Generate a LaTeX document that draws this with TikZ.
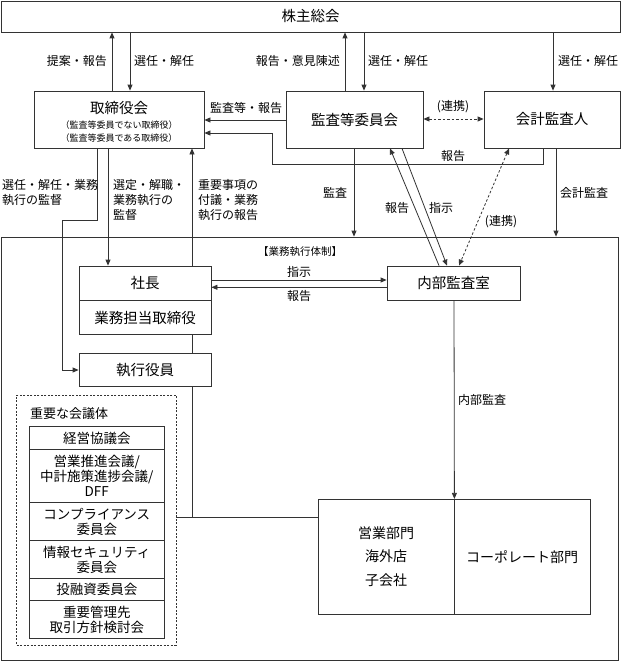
\documentclass[tikz,border=0pt]{standalone}
\usepackage{fontspec}
\setmainfont{Noto Sans CJK JP}
\usetikzlibrary{arrows.meta}
\begin{document}
\begin{tikzpicture}[x=1pt,y=-1pt,
  ln/.style={draw=black!80, line width=0.8pt},
  arr/.style={ln, -{Triangle[length=6pt,width=5pt]}},
  darr/.style={ln, dash pattern=on 2.5pt off 2pt, {Triangle[length=6pt,width=5pt]}-{Triangle[length=6pt,width=5pt]}},
  box/.style={ln, inner sep=0pt, align=center, font=\fontsize{14.5}{17}\selectfont},
  mbox/.style={ln, inner sep=0pt, align=center, minimum width=135pt, font=\fontsize{13.5}{15}\selectfont},
  lbl/.style={inner sep=0pt, align=left, font=\fontsize{12}{15}\selectfont},
  txt/.style={inner sep=0pt, align=center},
  ]
\useasboundingbox (0,0) rectangle (621,661);
% main boxes
\node[box, minimum width=619pt, minimum height=31pt] (kabu) at (310.5,16.5) {株主総会};
\node[box, minimum width=170pt, minimum height=57pt] (tori) at (119,119.5) {};
\node[txt, font=\fontsize{14.5}{17}\selectfont] (toriT) at (119,108) {取締役会};
\node[txt, font=\fontsize{9}{13}\selectfont] (toriS) at (119,131.5) {（監査等委員でない取締役）\\（監査等委員である取締役）};
\node[box, minimum width=137pt, minimum height=57pt] (kansa) at (354.5,119.5) {監査等委員会};
\node[box, minimum width=136pt, minimum height=57pt] (kaikei) at (552,119.5) {会計監査人};
\node[ln, inner sep=0pt, minimum width=617.5pt, minimum height=423pt] (big) at (309.75,448.5) {};
\node[txt, font=\fontsize{10.5}{12}\selectfont] (taisei) at (300,252) {【業務執行体制】};
\node[box, minimum width=132pt, minimum height=34.7pt] (shacho) at (145,283.35) {社長};
\node[box, minimum width=132pt, minimum height=33.6pt] (gyomu) at (145,317.5) {業務担当取締役};
\node[box, minimum width=132pt, minimum height=33.4pt] (shikko) at (145,370) {執行役員};
\node[box, minimum width=133pt, minimum height=34.7pt] (naibu) at (453.5,283.35) {内部監査室};
% important meetings
\node[ln, dash pattern=on 2pt off 1.5pt, inner sep=0pt, minimum width=159.3pt, minimum height=250pt] (kaigi) at (96.35,520) {};
\node[txt, anchor=west, font=\fontsize{13}{15}\selectfont] (kaigiT) at (30,414) {重要な会議体};
\node[mbox, minimum height=22.6pt] (m1) at (96.8,438) {経営協議会};
\node[mbox, minimum height=53pt] (m2) at (96.8,475.8) {営業推進会議/\\中計施策進捗会議/\\DFF};
\node[mbox, minimum height=38.4pt] (m3) at (96.8,521.5) {コンプライアンス\\委員会};
\node[mbox, minimum height=38pt] (m4) at (96.8,559.7) {情報セキュリティ\\委員会};
\node[mbox, minimum height=22pt] (m5) at (96.8,589.7) {投融資委員会};
\node[mbox, minimum height=37.6pt] (m6) at (96.8,619.5) {重要管理先\\取引方針検討会};
% departments
\node[box, minimum width=135.7pt, minimum height=114.7pt, font=\fontsize{14}{23.3}\selectfont] (eigyo) at (386.15,556.65) {営業部門\\海外店\\子会社};
\node[box, minimum width=136pt, minimum height=114.7pt, font=\fontsize{14}{17}\selectfont] (corp) at (522,556.65) {コーポレート部門};
\coordinate (j1) at (192,517);
% connectors
\draw[arr] (112,0 |- tori.north) -- (112,0 |- kabu.south);
\draw[arr] (130,0 |- kabu.south) -- (130,0 |- tori.north);
\draw[arr] (345,0 |- kansa.north) -- (345,0 |- kabu.south);
\draw[arr] (364,0 |- kabu.south) -- (364,0 |- kansa.north);
\draw[arr] (553,0 |- kabu.south) -- (553,0 |- kaikei.north);
\draw[arr] (kansa.west |- 0,120) -- (tori.east |- 0,120);
\draw[arr] (543,0 |- kaikei.south) -- (543,164) -- (272,164) -- (272,133) -- (tori.east |- 0,133);
\draw[darr] (kansa.east |- 0,119) -- (kaikei.west |- 0,119);
\draw[arr] (354,0 |- kansa.south) -- (354,0 |- big.north);
\draw[arr] (556,0 |- kaikei.south) -- (556,0 |- big.north);
\draw[arr] (439,0 |- naibu.north) -- (390,0 |- kansa.south);
\draw[arr] (402,0 |- kansa.south) -- (447,0 |- naibu.north);
\draw[darr] (509,0 |- kaikei.south) -- (459,0 |- naibu.north);
\draw[arr] (97,0 |- tori.south) -- (97,220) -- (62,220) -- (62,0 |- shikko.west) -- (shikko.west);
\draw[arr] (108,0 |- tori.south) -- (108,0 |- shacho.north);
\draw[arr] (192,0 |- shacho.north) -- (192,0 |- tori.south);
\draw[arr] (shacho.east |- 0,280) -- (naibu.west |- 0,280);
\draw[arr] (naibu.west |- 0,287.3) -- (shacho.east |- 0,287.3);
\draw[ln] (192,0 |- gyomu.south) -- (192,0 |- shikko.north);
\draw[ln] (192,0 |- shikko.south) -- (j1);
\draw[ln] (kaigi.east |- j1) -- (eigyo.west |- j1);
\draw[arr] (454,0 |- naibu.south) -- (eigyo.north east);
% labels
\node[lbl, anchor=east] at (107,61) {提案・報告};
\node[lbl, anchor=west] at (134,61) {選任・解任};
\node[lbl, anchor=east] at (340,61) {報告・意見陳述};
\node[lbl, anchor=west] at (368,61) {選任・解任};
\node[lbl, anchor=west] at (558,61) {選任・解任};
\node[lbl] at (246,107.7) {監査等・報告};
\node[lbl] at (453,107) {(連携)};
\node[lbl] at (453,156) {報告};
\node[lbl] at (335,193) {監査};
\node[lbl, anchor=west] at (560,193) {会計監査};
\node[lbl] at (397,208) {報告};
\node[lbl] at (441,208) {指示};
\node[lbl] at (501,222) {(連携)};
\node[lbl, anchor=west] at (2,192.5) {選任・解任・業務\\執行の監督};
\node[lbl, anchor=west] at (113,200) {選定・解職・\\業務執行の\\監督};
\node[lbl, anchor=west] at (198,200) {重要事項の\\付議・業務\\執行の報告};
\node[lbl] at (299,272) {指示};
\node[lbl] at (299,296) {報告};
\node[lbl, anchor=west] at (458,400) {内部監査};
\end{tikzpicture}
\end{document}
